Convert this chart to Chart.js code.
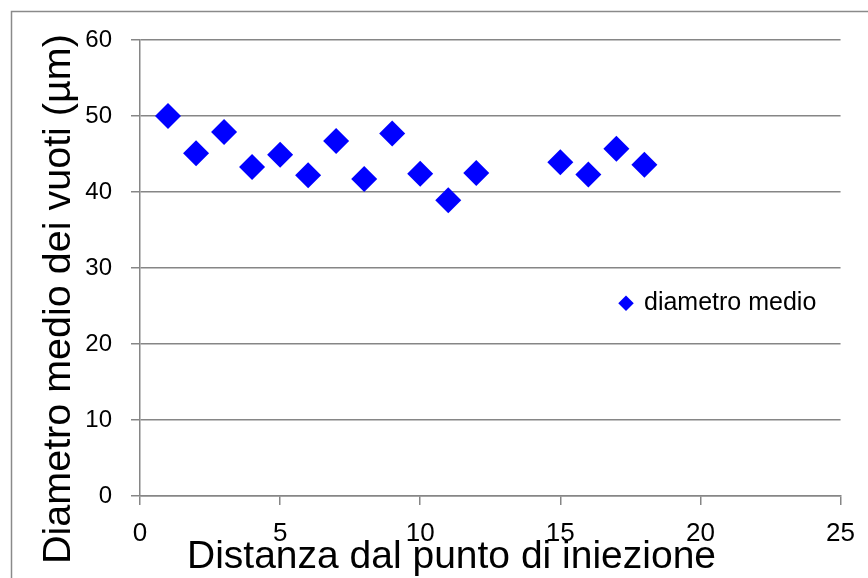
<!DOCTYPE html>
<html>
<head>
<meta charset="utf-8">
<script src="https://cdn.jsdelivr.net/npm/chart.js@4/dist/chart.umd.min.js"></script>
<style>
  html, body { margin: 0; padding: 0; background: #ffffff; }
  canvas { display: block; }
</style>
</head>
<body>
<canvas id="c" width="868" height="578"></canvas>
<script>
// ---- data ----
const distances = [1, 2, 3, 4, 5, 6, 7, 8, 9, 10, 11, 12, 15, 16, 17, 18];
const meanDiameter = [50.0, 45.1, 47.9, 43.3, 44.9, 42.2, 46.7, 41.7, 47.7, 42.4, 38.9, 42.5, 43.9, 42.3, 45.7, 43.6];
const seriesLabel = 'diametro medio';
const xTitle = 'Distanza dal punto di iniezione';
const yTitle = 'Diametro medio dei vuoti (\u00b5m)';
const xRange = [0, 25, 5];
const yRange = [0, 60, 10];

const FONT = '"Liberation Sans", Arial, sans-serif';
const GRID = '#868686';

const points = distances.map((d, i) => ({ x: d, y: meanDiameter[i] }));

const framePlugin = {
  id: 'frame',
  beforeDraw(chart) {
    const ctx = chart.ctx;
    ctx.save();
    ctx.fillStyle = '#ffffff';
    ctx.fillRect(0, 0, chart.width, chart.height);
    ctx.strokeStyle = '#8a8a8a';
    ctx.lineWidth = 1.5;
    ctx.strokeRect(11.5, 11.5, 1000, 1000);
    ctx.restore();
    const lg = chart.legend;
    if (lg) {
      const w = lg.width;
      lg.left = 610.5; lg.right = 610.5 + w;
      lg.top = 280.8; lg.bottom = 280.8 + 60;
    }
  },
  afterDraw(chart) {
    const ctx = chart.ctx;
    ctx.save();
    ctx.fillStyle = '#000000';
    ctx.textAlign = 'left';
    ctx.textBaseline = 'alphabetic';
    ctx.font = '39px ' + FONT;
    ctx.fillText(xTitle, 187, 568);
    ctx.font = '39.5px ' + FONT;
    ctx.translate(70, 564);
    ctx.rotate(-Math.PI / 2);
    ctx.fillText(yTitle, 0, 0);
    ctx.restore();
  }
};

new Chart(document.getElementById('c'), {
  type: 'scatter',
  data: {
    datasets: [{
      label: seriesLabel,
      data: points,
      pointStyle: 'rectRot',
      pointRadius: 13,
      pointHoverRadius: 13,
      backgroundColor: '#0000ff',
      borderColor: '#0000ff',
      borderWidth: 0
    }]
  },
  options: {
    responsive: false,
    animation: false,
    layout: { padding: { top: 40, right: 22, left: 0, bottom: 0 } },
    plugins: {
      legend: {
        position: 'chartArea',
        align: 'start',
        labels: {
          usePointStyle: true,
          boxWidth: 11,
          boxHeight: 11,
          padding: 10,
          color: '#000000',
          font: { family: FONT, size: 25 }
        }
      },
      tooltip: { enabled: false },
      title: { display: false }
    },
    scales: {
      x: {
        type: 'linear',
        min: xRange[0], max: xRange[1],
        afterFit(s) { s.height = 82; },
        ticks: { stepSize: xRange[2], padding: 13, color: '#000000', font: { family: FONT, size: 26 }, maxRotation: 0 },
        grid: { drawOnChartArea: false, drawTicks: true, tickLength: 9, color: GRID, lineWidth: 1.5 },
        border: { display: true, color: GRID, width: 1.5 },
        title: { display: false }
      },
      y: {
        type: 'linear',
        min: yRange[0], max: yRange[1],
        afterFit(s) { s.width = 140; },
        ticks: { stepSize: yRange[2], padding: 19, color: '#000000', font: { family: FONT, size: 24 } },
        grid: { drawOnChartArea: true, drawTicks: true, tickLength: 9, color: GRID, lineWidth: 1.5 },
        border: { display: true, color: GRID, width: 1.5 },
        title: { display: false }
      }
    }
  },
  plugins: [framePlugin]
});
</script>
</body>
</html>
